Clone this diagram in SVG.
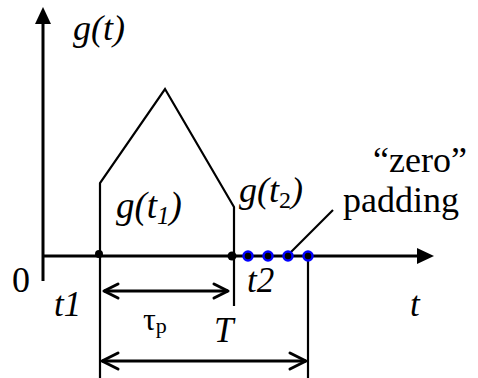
<svg xmlns="http://www.w3.org/2000/svg" width="478" height="378" viewBox="0 0 478 378">
<style>
.ax{stroke:#000;stroke-width:3;fill:none}
.ln{stroke:#000;stroke-width:2.2;fill:none}
.hd{stroke:#000;stroke-width:3;fill:none;stroke-linecap:round;stroke-linejoin:round}
.bd{fill:#000;stroke:#0000ff;stroke-width:2.5}
.t{font-family:"Liberation Serif","Times New Roman","DejaVu Serif",serif;font-size:35px;fill:#000}
.i{font-style:italic}
</style>
<rect width="478" height="378" fill="#fff"/>
<g id="connectors">
<line class="ax" x1="43" y1="22" x2="43" y2="281"/>
<polygon points="43,7 35,24 51,24" fill="#000"/>
<line class="ax" x1="43" y1="256" x2="420" y2="256"/>
<polygon points="434,256 417,248 417,264" fill="#000"/>
<polyline class="ln" points="100,378 100,183 165,89 234,207 234,306"/>
<line class="ln" x1="308" y1="256" x2="308" y2="378"/>
<line class="ln" x1="287" y1="256" x2="333" y2="210"/>
<line class="ax" x1="104" y1="291" x2="228" y2="291"/>
<polyline class="hd" points="118,284 104,291 118,298"/>
<polyline class="hd" points="214,284 228,291 214,298"/>
<line class="ax" x1="102" y1="361" x2="306" y2="361"/>
<polyline class="hd" points="118,353 102,361 118,369"/>
<polyline class="hd" points="290,353 306,361 290,369"/>
</g>
<g id="dots">
<circle cx="99" cy="254" r="4" fill="#000"/>
<circle cx="232" cy="256" r="4.5" fill="#000"/>
<circle class="bd" cx="248" cy="256" r="4.5"/>
<circle class="bd" cx="268" cy="256" r="4.5"/>
<circle class="bd" cx="288" cy="256" r="4.5"/>
<circle class="bd" cx="308" cy="256" r="4.5"/>
</g>
<g id="labels">
<text class="t i" x="73" y="40" style="font-size:36px">g(t)</text>
<text class="t" x="12" y="292" style="font-size:36px">0</text>
<text class="t i" x="54" y="316">t1</text>
<text class="t i" x="247" y="292">t2</text>
<text class="t i" x="410" y="316">t</text>
<text class="t i" x="214" y="342">T</text>
<text class="t" x="143" y="330" style="font-size:32px">τ<tspan style="font-size:22px" dy="3">p</tspan></text>
<text class="t i" x="116" y="218" style="font-size:37px">g(t<tspan style="font-size:25px" dy="6">1</tspan><tspan dy="-6">)</tspan></text>
<text class="t i" x="239" y="202" style="font-size:36px">g(t<tspan style="font-size:24px;font-style:normal" dy="6">2</tspan><tspan dy="-6">)</tspan></text>
<text class="t" x="373" y="172" style="font-size:36px">“zero”</text>
<text class="t" x="343" y="212" style="font-size:36px">padding</text>
</g>
</svg>
